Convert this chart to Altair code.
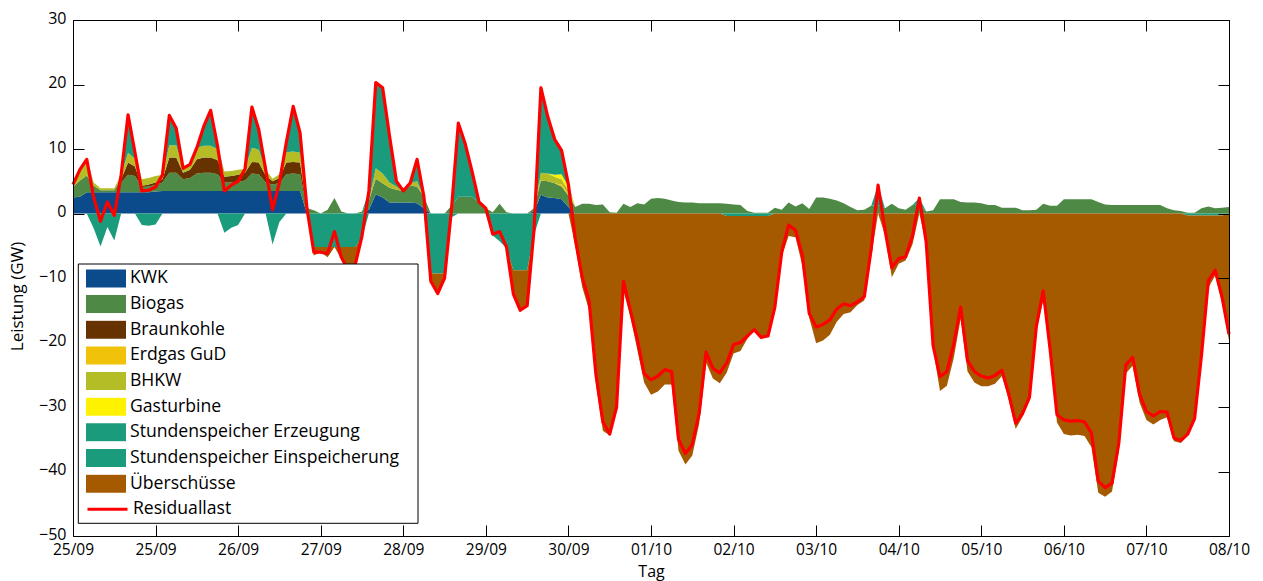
import altair as alt
import pandas as pd

# Time axis: hours since the start of 25/09, sampled every 2 h over two weeks
hours = list(range(0, 337, 2))
tick_hours = list(range(0, 337, 24))
day_labels = ["25/09", "25/09", "26/09", "27/09", "28/09", "29/09", "30/09",
              "01/10", "02/10", "03/10", "04/10", "05/10", "06/10", "07/10", "08/10"]
y_ticks = [-50, -40, -30, -20, -10, 0, 10, 20, 30]

# Residual load (GW), one row per day (12 samples of 2 h)
residual = [
    4.5, 6.8, 8.4, 2.5, -1.2, 1.8, -0.3, 6.0, 15.3, 9.5, 3.5, 3.6,
    4.1, 6.0, 15.2, 13.2, 7.0, 7.6, 10.2, 13.5, 16.0, 10.5, 3.5, 4.4,
    5.0, 6.9, 16.5, 13.0, 6.8, 0.6, 4.8, 11.0, 16.6, 12.5, 0.8, -6.0,
    -6.0, -6.2, -2.8, -6.8, -8.8, -8.0, -3.5, 3.5, 20.3, 19.5, 12.0, 5.0,
    3.5, 4.7, 8.4, 2.6, -10.5, -12.4, -10.0, 0.6, 14.0, 10.8, 6.5, 1.8,
    0.8, -3.2, -2.8, -5.2, -12.5, -15.0, -14.3, -2.5, 19.5, 15.0, 11.5, 9.8,
    4.5, -4.0, -9.9, -13.5, -25.0, -32.3, -34.2, -30.0, -10.5, -15.0, -19.5, -24.8,
    -25.8, -25.2, -24.2, -24.5, -35.0, -37.2, -35.8, -31.0, -21.5, -24.0, -24.7, -23.2,
    -20.3, -20.0, -19.0, -18.0, -19.2, -19.0, -14.5, -6.0, -1.8, -2.6, -6.5, -15.5,
    -17.6, -17.2, -16.5, -14.8, -14.0, -14.3, -13.7, -12.9, -5.5, 4.4, -2.5, -8.4,
    -7.0, -6.7, -3.5, 2.4, -4.5, -20.5, -25.3, -24.5, -20.2, -14.5, -22.8, -24.5,
    -25.2, -25.5, -25.1, -24.3, -28.0, -32.5, -31.0, -28.5, -17.5, -12.0, -21.0, -31.2,
    -32.0, -32.2, -32.1, -32.3, -34.0, -41.5, -42.5, -41.8, -35.5, -23.5, -22.3, -28.0,
    -30.7, -31.4, -30.7, -30.8, -34.8, -35.2, -34.2, -31.8, -22.0, -10.4, -8.8, -13.0,
    -18.7,
]

kwk = [
    2.5, 2.6, 3.3, 3.3, 3.3, 3.3, 3.3, 3.3, 3.3, 3.3, 3.3, 3.3,
    3.4, 3.5, 3.5, 3.5, 3.5, 3.5, 3.5, 3.5, 3.5, 3.5, 3.5, 3.5,
    3.5, 3.5, 3.5, 3.5, 3.5, 3.5, 3.5, 3.5, 3.5, 3.5, 0, 0,
    0, 0, 0, 0, 0, 0, 0, 0.6, 3.0, 2.5, 1.7, 1.7,
    1.7, 1.7, 1.6, 0.8, 0, 0, 0, 0, 0, 0, 0, 0,
    0, 0, 0, 0, 0, 0, 0, 0.3, 2.9, 2.5, 2.4, 2.2,
    1.0,
] + [0] * 96

biogas = [
    1.6, 2.5, 2.6, 1.0, 0.3, 0.3, 0.3, 1.5, 2.7, 2.5, 0.8, 0.9,
    1.0, 1.3, 2.8, 2.8, 1.8, 2.0, 2.7, 2.8, 2.8, 2.6, 1.3, 1.3,
    1.4, 1.6, 2.7, 2.6, 1.3, 1.0, 1.2, 2.6, 2.7, 2.6, 0.8, 0.5,
    0, 0.6, 2.4, 0.3, 0, 0, 0.3, 1.4, 2.4, 2.2, 2.3, 2.0,
    1.8, 2.6, 2.6, 1.8, 0, 0, 0, 1.2, 2.6, 2.6, 2.6, 1.8,
    0.8, 0.2, 1.5, 0.2, 0, 0, 0, 0.5, 2.2, 2.5, 2.3, 2.0,
    1.8, 1.0, 1.5, 1.5, 1.3, 1.4, 0.2, 0.1, 1.5, 1.0, 1.6, 1.4,
    2.3, 2.4, 2.3, 2.0, 1.8, 1.7, 1.7, 1.6, 1.6, 1.6, 1.6, 1.5,
    1.4, 1.3, 0.4, 0.1, 0.1, 0.1, 0.9, 0.6, 1.7, 1.1, 1.6, 0.7,
    2.5, 2.5, 2.3, 2.0, 1.6, 1.0, 0.5, 0.6, 1.2, 1.3, 0.8, 1.5,
    0.8, 0.6, 1.3, 1.4, 0.3, 0.5, 2.2, 2.2, 2.2, 1.8, 1.7, 1.7,
    1.6, 1.3, 1.3, 0.9, 0.9, 0.9, 0.5, 0.5, 0.6, 1.5, 1.2, 1.2,
    2.2, 2.2, 2.2, 2.2, 2.2, 1.8, 1.4, 1.3, 1.3, 1.3, 1.3, 1.3,
    1.3, 1.3, 1.3, 0.8, 0.5, 0.4, 0.1, 0.1, 0.8, 1.1, 0.8, 0.9,
    1.0,
]

braunkohle = [
    0, 0, 0, 0, 0, 0, 0, 0.5, 1.9, 1.5, 0.2, 0.3,
    0.4, 0.5, 2.4, 2.4, 1.0, 1.3, 2.2, 2.4, 2.4, 2.2, 0.9, 1.0,
    1.1, 1.2, 1.8, 1.8, 1.1, 0.5, 0.8, 1.8, 1.8, 1.8, 0, 0,
] + [0] * 133

erdgas_gud = [0] * 71 + [0.3, 0.2] + [0] * 96

bhkw = [
    0.4, 1.7, 2.0, 0.5, 0.3, 0.3, 0.3, 0.7, 1.5, 1.2, 1.0, 1.0,
    1.0, 0.7, 1.9, 1.9, 0.7, 0.8, 1.8, 1.8, 1.8, 1.7, 0.8, 0.8,
    0.8, 0.6, 2.2, 2.0, 0.9, 0.4, 0.6, 1.6, 1.6, 1.5, 0, 0,
    0, 0, 0, 0, 0, 0, 0, 0, 1.6, 1.5, 0.8, 0.5,
    0, 0.4, 0.8, 0, 0, 0, 0, 0, 0, 0, 0, 0,
    0, 0, 0, 0, 0, 0, 0, 0, 1.2, 1.2, 1.0, 0.8,
    0.6,
] + [0] * 96

gasturbine = [0] * 70 + [0.3, 0.8, 0.6] + [0] * 96

speicher_erzeugung = [
    0, 0, 0.5, 0, 0, 0, 0, 0, 5.9, 1.0, 0, 0,
    0, 0, 4.6, 2.6, 0, 0, 0, 3.0, 5.5, 0.5, 0, 0,
    0, 0, 6.3, 3.1, 0, 0, 0, 1.5, 7.0, 3.1, 0, 0,
    0, 0, 0, 0, 0, 0, 0, 1.5, 13.3, 13.3, 7.2, 0.8,
    0, 0, 3.4, 0, 0, 0, 0, 0, 11.4, 8.2, 3.9, 0,
    0, 0, 0, 0, 0, 0, 0, 0, 13.2, 8.8, 5.5, 3.7,
    0.3, 0, 0, 0, 0, 0, 0, 0, 0, 0, 0, 0,
    0, 0, 0, 0, 0, 0, 0, 0, 0, 0, 0, 0,
    0, 0, 0, 0, 0, 0, 0, 0, 0, 0, 0, 0,
    0, 0, 0, 0, 0, 0, 0, 0, 0, 3.1, 0, 0,
    0, 0, 0, 1.0, 0, 0, 0, 0, 0, 0, 0, 0,
] + [0] * 37

speicher_einspeicherung = [
    0, 0, 0, -2.3, -5.1, -2.1, -4.2, 0, 0, 0, -1.8, -1.9,
    -1.7, 0, 0, 0, 0, 0, 0, 0, 0, 0, -3.0, -2.2,
    -1.8, 0, 0, 0, 0, -4.8, -1.3, 0, 0, 0, 0, -5.2,
    -5.2, -5.2, -5.2, -5.2, -5.2, -5.2, -3.8, 0, 0, 0, 0, 0,
    0, 0, 0, 0, -9.3, -9.3, -9.3, -0.6, 0, 0, 0, 0,
    0, -3.4, -4.3, -5.4, -8.8, -8.8, -8.8, -3.3, 0, 0, 0, 0,
    0, 0, 0, 0, 0, 0, 0, 0, 0, 0, 0, 0,
    0, 0, 0, 0, 0, 0, 0, 0, 0, 0, 0, -0.4,
    -0.4, -0.4, -0.4, -0.4, -0.4, -0.4, 0, 0, 0, 0, 0, 0,
] + [0] * 48 + [0, 0, 0, 0, 0, 0, -0.3, -0.3, -0.3, -0.3, -0.3, -0.3, 0]

ueberschuesse = [0] * 35 + [
    -1.3,
    -0.8, -1.6, 0, -1.9, -3.6, -2.8, 0, 0, 0, 0, 0, 0,
    0, 0, 0, 0, -1.2, -3.1, -0.7, 0, 0, 0, 0, 0,
    0, 0, 0, 0, -3.7, -6.2, -5.5, 0, 0, 0, 0, 0,
    0, -5.0, -11.4, -15.0, -26.3, -33.7, -34.4, -30.1, -12.0, -16.0, -21.1, -26.2,
    -28.1, -27.6, -26.5, -26.5, -36.8, -38.9, -37.5, -32.6, -23.1, -25.6, -26.3, -24.3,
    -21.3, -20.9, -19.0, -17.7, -18.9, -18.7, -15.4, -6.6, -3.5, -3.7, -8.1, -16.2,
    -20.1, -19.7, -18.8, -16.8, -15.6, -15.3, -14.2, -13.5, -6.7, 0, -3.3, -9.9,
    -7.8, -7.3, -4.8, 0, -4.8, -21.0, -27.5, -26.7, -22.4, -16.3, -24.5, -26.2,
    -26.8, -26.8, -26.4, -25.2, -28.9, -33.4, -31.5, -29.0, -18.1, -13.5, -22.2, -32.4,
    -34.2, -34.4, -34.3, -34.5, -36.2, -43.3, -43.9, -43.1, -36.8, -24.8, -23.6, -29.3,
    -32.0, -32.7, -32.0, -31.6, -35.3, -35.6, -34.0, -31.6, -22.5, -11.2, -9.3, -13.6,
    -19.7,
]

series_names = ["KWK", "Biogas", "Braunkohle", "Erdgas GuD", "BHKW", "Gasturbine",
                "Stundenspeicher Erzeugung", "Stundenspeicher Einspeicherung", "Überschüsse"]
series_colors = ["#0b4a8b", "#4e8a45", "#663300", "#f0c30a", "#b5bd26", "#fff200",
                 "#1a9c7c", "#1a9c7c", "#a65a00"]

generation = [kwk, biogas, braunkohle, erdgas_gud, bhkw, gasturbine, speicher_erzeugung]
absorption = [speicher_einspeicherung, ueberschuesse]
for s in generation + absorption + [residual]:
    assert len(s) == len(hours)

# Stack generation upward from zero and storage/surplus downward from zero
rows = []
for j, h in enumerate(hours):
    top = 0.0
    for name, vals in zip(series_names[:7], generation):
        rows.append({"h": h, "series": name, "lo": top, "hi": top + vals[j]})
        top += vals[j]
    bottom = 0.0
    for name, vals in zip(series_names[7:], absorption):
        rows.append({"h": h, "series": name, "lo": bottom + vals[j], "hi": bottom})
        bottom += vals[j]
stack_df = pd.DataFrame(rows)
line_df = pd.DataFrame({"h": hours, "v": residual, "name": "Residuallast"})

W, H = 1156, 516
FONT = "Open Sans"
x_scale = alt.Scale(domain=[0, 336], nice=False, zero=False)
y_scale = alt.Scale(domain=[-50, 30], nice=False, zero=False)
label_expr = "[" + ",".join(f"'{d}'" for d in day_labels) + "][round(datum.value / 24)]"

ROW = 25.66
FIRST_ROW = 258.4
legend_common = dict(
    title=None, orient="none", direction="vertical", padding=0,
    labelFont=FONT, labelFontSize=17.6, labelColor="black", labelOffset=4,
    labelLimit=400, clipHeight=19, rowPadding=ROW - 19, symbolSize=1600,
)

areas = alt.Chart(stack_df).mark_area(interpolate="linear").encode(
    x=alt.X("h:Q", scale=x_scale, axis=alt.Axis(
        orient="bottom", values=tick_hours, labelExpr=label_expr, labelFlush=False,
        ticks=False, tickSize=0, domain=True, domainColor="black", labelPadding=6,
        labelFont=FONT, labelFontSize=15.5, labelColor="black",
        title="Tag", titleFont=FONT, titleFontSize=16, titleFontWeight="normal",
        titleColor="black", titleBaseline="alphabetic", titleY=40,
        grid=False, zindex=1)),
    y=alt.Y("lo:Q", scale=y_scale, axis=alt.Axis(
        orient="left", values=y_ticks, ticks=False, tickSize=0, domain=True,
        domainColor="black", labelPadding=7, labelOffset=-2, labelFont=FONT,
        labelFontSize=16, labelColor="black", title="Leistung (GW)", titleFont=FONT,
        titleFontSize=17, titleFontWeight="normal", titleColor="black",
        titlePadding=12, titleY=276, grid=False, zindex=1)),
    y2="hi:Q",
    color=alt.Color("series:N", scale=alt.Scale(domain=series_names, range=series_colors),
                    legend=alt.Legend(legendX=13, legendY=FIRST_ROW - 9.5,
                                      symbolType="M-1,-0.45H1V0.45H-1Z",
                                      symbolStrokeWidth=0, symbolOpacity=1,
                                      **legend_common)),
)

# Residual load line; its axes draw the inward ticks on the bottom and left edges
line = alt.Chart(line_df).mark_line(strokeWidth=3.2, strokeJoin="round").encode(
    x=alt.X("h:Q", scale=x_scale, axis=alt.Axis(
        orient="top", offset=-H, values=tick_hours, labels=False, domain=False,
        ticks=True, tickSize=11, tickColor="black", title=None, grid=False, zindex=1)),
    y=alt.Y("v:Q", scale=y_scale, axis=alt.Axis(
        orient="right", offset=-W, values=[-50, 0, 10, 20, 30], labels=False, domain=False,
        ticks=True, tickSize=11, tickColor="black", title=None, grid=False, zindex=1)),
    stroke=alt.Stroke("name:N", scale=alt.Scale(domain=["Residuallast"], range=["#ff0000"]),
                      legend=alt.Legend(legendX=13, legendY=FIRST_ROW + 9 * ROW - 9.5,
                                        symbolType="stroke", symbolStrokeWidth=3,
                                        **legend_common)),
)

# Top and right frame edges with inward ticks
frame_axes = alt.Chart(line_df).mark_line(opacity=0).encode(
    x=alt.X("h:Q", scale=x_scale, axis=alt.Axis(
        orient="bottom", offset=-H, values=tick_hours, labels=False, domain=True,
        domainColor="black", ticks=True, tickSize=11, tickColor="black", title=None,
        grid=False, zindex=1)),
    y=alt.Y("v:Q", scale=y_scale, axis=alt.Axis(
        orient="left", offset=-W, values=y_ticks, labels=False, domain=True,
        domainColor="black", ticks=True, tickSize=11, tickColor="black", title=None,
        grid=False, zindex=1)),
)

# White legend box
legend_box = alt.Chart(pd.DataFrame({"k": [0]})).mark_rect(
    fill="white", stroke="black", strokeWidth=1
).encode(x=alt.value(5.3), x2=alt.value(345), y=alt.value(244), y2=alt.value(503.3))

chart = alt.layer(areas, line, frame_axes, legend_box).resolve_axis(
    x="independent", y="independent"
).properties(
    width=W, height=H, autosize="none",
    padding={"left": 73, "top": 20, "right": 34, "bottom": 45},
    background="white",
).configure_view(stroke=None)

chart.save("out.html", embed_options={"renderer": "svg", "actions": False})
